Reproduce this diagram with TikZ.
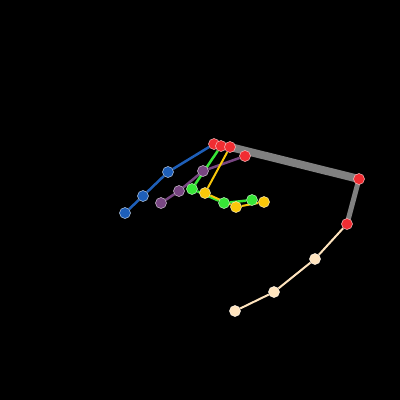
\documentclass[tikz,border=0pt]{standalone}
\usetikzlibrary{backgrounds}
\definecolor{kpred}{RGB}{240,45,50}
\definecolor{kpblue}{RGB}{30,95,185}
\definecolor{kppurple}{RGB}{120,70,130}
\definecolor{kpgreen}{RGB}{55,230,55}
\definecolor{kpyellow}{RGB}{250,200,10}
\definecolor{kpbeige}{RGB}{255,228,190}
\tikzset{
  kp/.style={circle, fill=#1, draw=white!70!#1, line width=0.5pt, inner sep=0pt, minimum size=11pt},
  bone/.style={draw=#1, line width=2.5pt}
}
\begin{document}
\begin{tikzpicture}[x=1pt, y=-1pt]
  \useasboundingbox (0,0) rectangle (400,400);

  % joints
  \node (r1) [kp=kpred] at (214,144) {};
  \node (r2) [kp=kpred] at (221,146) {};
  \node (r3) [kp=kpred] at (230,147) {};
  \node (r4) [kp=kpred] at (245,156) {};
  \node (elbow) [kp=kpred] at (359,179) {};
  \node (wrist) [kp=kpred] at (347,224) {};

  \node (b1) [kp=kpblue] at (168,172) {};
  \node (b2) [kp=kpblue] at (143,196) {};
  \node (b3) [kp=kpblue] at (125,213) {};

  \node (p1) [kp=kppurple] at (203,171) {};
  \node (p2) [kp=kppurple] at (179,191) {};
  \node (p3) [kp=kppurple] at (161,203) {};

  \node (g1) [kp=kpgreen] at (192,189) {};
  \node (g2) [kp=kpgreen] at (224,203) {};
  \node (g3) [kp=kpgreen] at (252,200) {};

  \node (y1) [kp=kpyellow] at (205,193) {};
  \node (y2) [kp=kpyellow] at (236,207) {};
  \node (y3) [kp=kpyellow] at (264,202) {};

  \node (f1) [kp=kpbeige] at (315,259) {};
  \node (f2) [kp=kpbeige] at (274,292) {};
  \node (f3) [kp=kpbeige] at (235,311) {};

  % bones
  \begin{scope}[on background layer]
    \fill[black] (0,0) rectangle (400,400);
    \draw[draw=gray, line width=8pt] (r3.center) -- (elbow.center);
    \draw[draw=gray, line width=5pt] (elbow.center) -- (wrist.center);
    \draw[bone=kpblue] (r1) -- (b1) -- (b2) -- (b3);
    \draw[bone=kppurple] (r4) -- (p1) -- (p2) -- (p3);
    \draw[bone=kpgreen] (r2) -- (g1) -- (g2) -- (g3);
    \draw[bone=kpyellow, line width=2pt] (r3) -- (y1) -- (y2) -- (y3);
    \draw[bone=kpbeige, line width=2pt] (wrist) -- (f1) -- (f2) -- (f3);
  \end{scope}
\end{tikzpicture}
\end{document}
